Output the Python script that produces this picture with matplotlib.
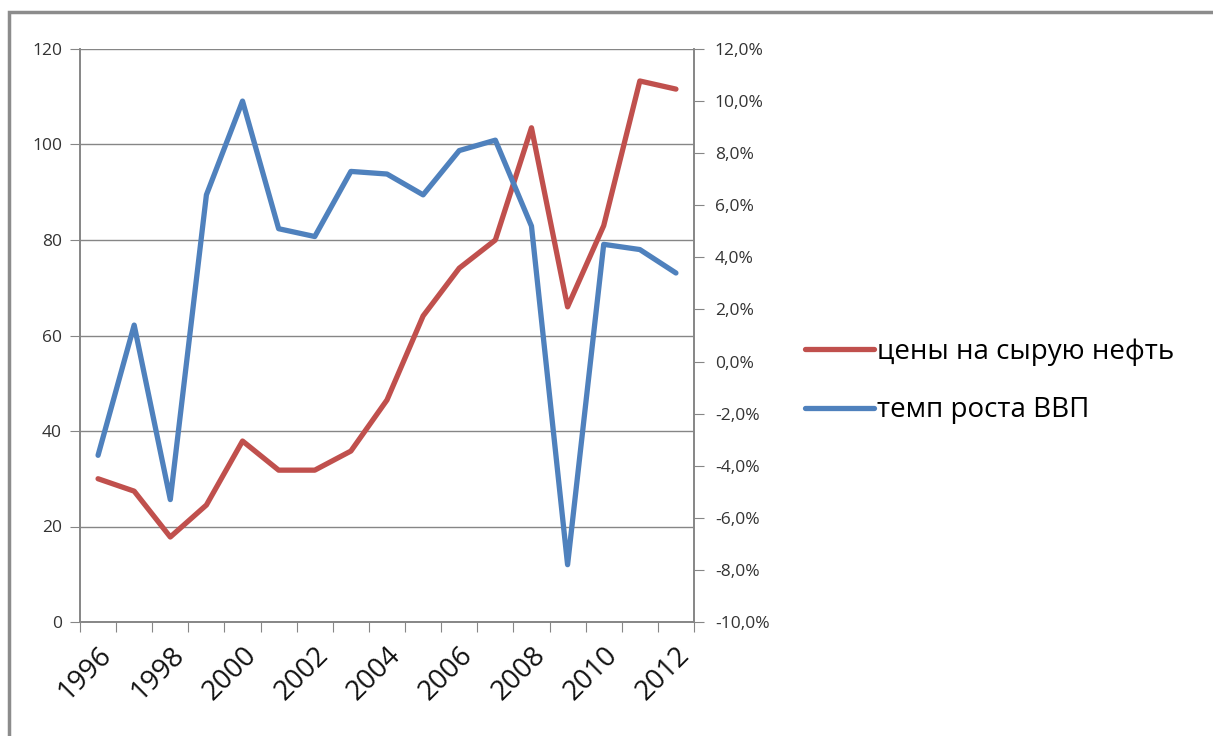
import numpy as np
import matplotlib.pyplot as plt
from matplotlib.patches import Rectangle
from matplotlib.ticker import FuncFormatter

years = list(range(1996, 2013))
oil_price = [30.0, 27.4, 17.8, 24.5, 37.9, 31.8, 31.8, 35.8, 46.5, 64.1,
             74.1, 80.0, 103.5, 66.0, 83.0, 113.3, 111.6]
gdp_growth = [-3.6, 1.4, -5.3, 6.4, 10.0, 5.1, 4.8, 7.3, 7.2, 6.4,
              8.1, 8.5, 5.2, -7.8, 4.5, 4.3, 3.4]
label_oil = 'цены на сырую нефть'
label_gdp = 'темп роста ВВП'

plt.rcParams['font.family'] = ['Open Sans', 'DejaVu Sans']
grey = '#868686'
red = '#C0504D'
blue = '#4F81BD'

fig = plt.figure(figsize=(12.13, 7.36), dpi=100)
ax = fig.add_axes([80 / 1213, 1 - 622 / 736, (694 - 80) / 1213, (622 - 49) / 736])
ax2 = ax.twinx()

x = np.arange(len(years))
l1, = ax.plot(x, oil_price, color=red, lw=3.8, solid_capstyle='round', solid_joinstyle='round', zorder=3)
l2, = ax2.plot(x, gdp_growth, color=blue, lw=3.8, solid_capstyle='round', solid_joinstyle='round', zorder=3)

ax.set_xlim(-0.5, len(years) - 0.5)
ax.set_ylim(0, 120)
ax.set_yticks(range(0, 121, 20))
ax2.set_ylim(-10, 12)
ax2.set_yticks(range(-10, 13, 2))
ax2.yaxis.set_major_formatter(FuncFormatter(lambda v, p: f'{v:.1f}%'.replace('.', ',')))

ax.set_xticks(np.arange(-0.5, len(years)), labels=[])
ax.set_xticks(x[::2], labels=[str(y) for y in years[::2]], minor=True)
ax.tick_params(axis='x', which='major', length=7, color=grey, direction='out')
ax.tick_params(axis='x', which='minor', length=0, pad=14, labelsize=20, colors='#111111')
for t in ax.get_xticklabels(minor=True):
    t.set_rotation(45)
    t.set_ha('right')
    t.set_va('top')
    t.set_rotation_mode('anchor')

ax.tick_params(axis='y', length=7, color=grey, labelsize=12.5, labelcolor='#333333', pad=6)
ax2.tick_params(axis='y', length=7, color=grey, labelsize=12.5, labelcolor='#333333', pad=8)

ax.grid(axis='y', color=grey, lw=1)
ax.set_axisbelow(True)
for a in (ax, ax2):
    a.spines['top'].set_visible(False)
    for s in ('left', 'right', 'bottom'):
        a.spines[s].set_color(grey)
        a.spines[s].set_linewidth(1.2)

fig.legend([l1, l2], [label_oil, label_gdp], loc='center left',
           bbox_to_anchor=(780 / 1213, 1 - 381 / 736), frameon=False,
           fontsize=20, handlelength=2.5, handletextpad=0.1, labelspacing=1.1)

fig.patches.append(Rectangle((9 / 1213, -0.1), 1.2, 1.1 - 12 / 736, transform=fig.transFigure,
                             fill=False, edgecolor='#8c8c8c', lw=2.5))

fig.savefig('out.png', dpi=100)
